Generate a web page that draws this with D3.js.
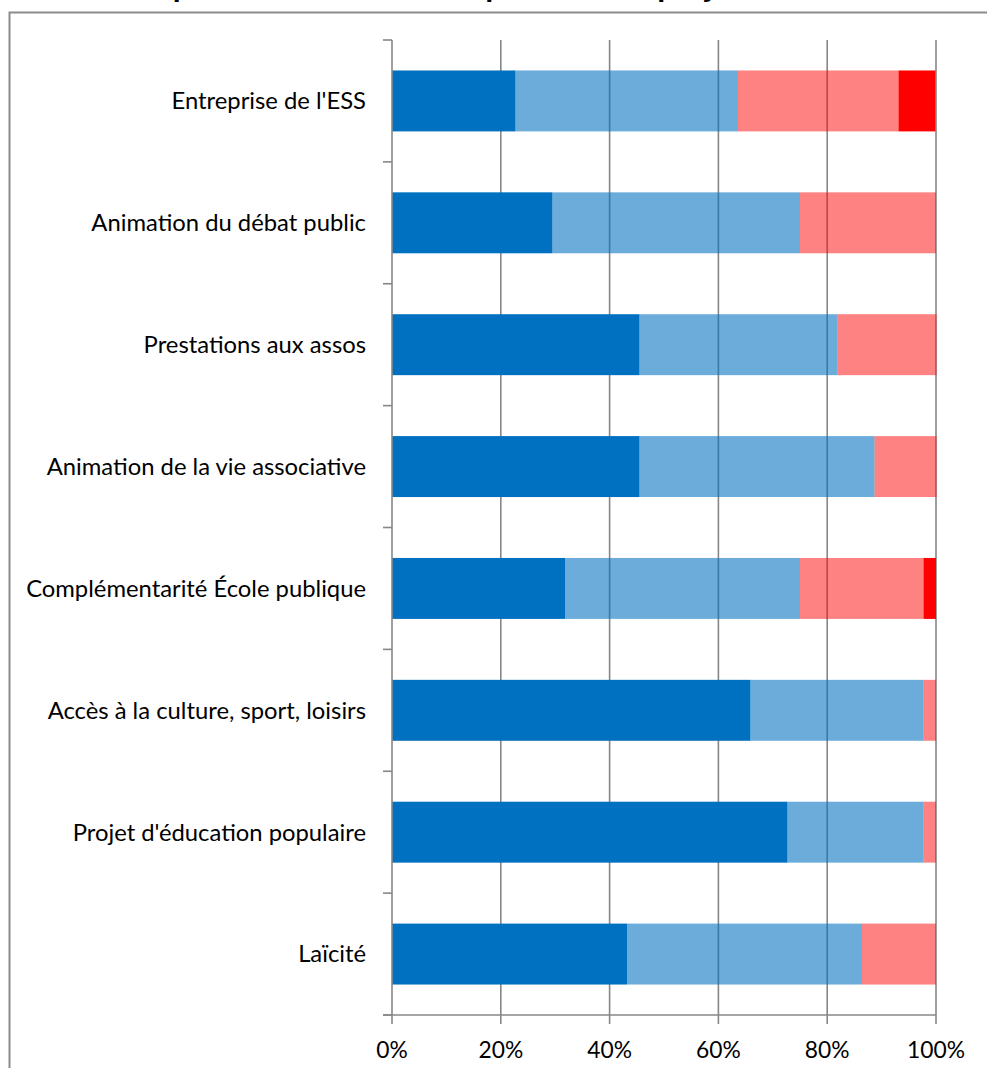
<!DOCTYPE html>
<html><head><meta charset="utf-8">
<script src="https://cdn.jsdelivr.net/npm/d3@7"></script>
<style>body{margin:0;background:#fff;} svg{display:block;}</style>
</head><body>
<svg id="c" width="987" height="1068"></svg>
<script>
const categories = ["Entreprise de l'ESS","Animation du débat public","Prestations aux assos","Animation de la vie associative","Complémentarité École publique","Accès à la culture, sport, loisirs","Projet d'éducation populaire","Laïcité"];
const seriesNames = ["Très important","Important","Peu important","Pas important"];
const s1 = [22.7, 29.5, 45.5, 45.5, 31.8, 65.9, 72.7, 43.2];
const s2 = [40.9, 45.5, 36.4, 43.2, 43.2, 31.8, 25.0, 43.2];
const s3 = [29.5, 25.0, 18.2, 11.4, 22.7, 2.3, 2.3, 13.6];
const s4 = [6.8, 0, 0, 0, 2.3, 0, 0, 0];
const xTicks = [0, 20, 40, 60, 80, 100];
const title = "Importance des thématiques dans le projet fédéral";

const svg = d3.select("#c");
const x = d3.scaleLinear().domain([0,100]).range([392, 936]);
const y = d3.scaleBand().domain(categories).range([40, 1015]).paddingInner(0.5).paddingOuter(0.25);
const fills = [{c:"#0070C0",o:1},{c:"#0070C0",o:0.58},{c:"#FF0000",o:0.49},{c:"#FF0000",o:1}];

// frame
svg.append("path").attr("d","M9.5,1068 V12.5 H987").attr("fill","none").attr("stroke","#8c8c8c").attr("stroke-width",2);
svg.append("text").attr("x",493).attr("y",-3).attr("text-anchor","middle")
  .attr("font-family","Lato, sans-serif").attr("font-weight","bold").attr("font-size",32).text(title);

// gridlines
svg.append("g").selectAll("line").data(xTicks.slice(1)).join("line")
  .attr("x1",d=>x(d)).attr("x2",d=>x(d)).attr("y1",40).attr("y2",1015)
  .attr("stroke","#878787").attr("stroke-width",1.6);

// bars
const rows = categories.map((c,i)=>({c, v:[s1[i],s2[i],s3[i],s4[i]]}));
const stack = d3.stack().keys([0,1,2,3]).value((d,k)=>d.v[k]);
const layers = stack(rows);
layers.forEach((layer,k)=>{
  svg.append("g").selectAll("rect").data(layer).join("rect")
    .attr("x",d=>x(d[0])).attr("width",d=>Math.max(0,x(d[1])-x(d[0])))
    .attr("y",d=>y(d.data.c)).attr("height",y.bandwidth())
    .attr("fill",fills[k].c).attr("fill-opacity",fills[k].o);
});

// y axis
const ya = svg.append("g");
ya.append("line").attr("x1",392).attr("x2",392).attr("y1",40).attr("y2",1015).attr("stroke","#878787").attr("stroke-width",1.6);
const bounds = categories.map(c=>y(c)-y.step()*y.paddingInner()/2).concat([1015]);
ya.selectAll("line.t").data(bounds).join("line").attr("class","t")
  .attr("x1",383).attr("x2",392).attr("y1",d=>d).attr("y2",d=>d).attr("stroke","#878787").attr("stroke-width",1.6);
ya.selectAll("text").data(categories).join("text")
  .attr("x",366).attr("y",c=>y(c)+y.bandwidth()/2).attr("dy","0.35em").attr("text-anchor","end")
  .attr("font-family","Lato, sans-serif").attr("font-size",23.8).attr("fill","#000").text(d=>d);

// x axis
const xa = svg.append("g").attr("transform","translate(0,1015)");
xa.append("line").attr("x1",383).attr("x2",936).attr("stroke","#878787").attr("stroke-width",1.6);
xa.selectAll("line.t").data(xTicks).join("line").attr("class","t")
  .attr("x1",d=>x(d)).attr("x2",d=>x(d)).attr("y1",0).attr("y2",9).attr("stroke","#878787").attr("stroke-width",1.6);
xa.selectAll("text").data(xTicks).join("text")
  .attr("x",d=>x(d)).attr("y",43).attr("text-anchor","middle")
  .attr("font-family","Lato, sans-serif").attr("font-size",22.8).attr("fill","#000").text(d=>d+"%");
</script>
</body></html>
